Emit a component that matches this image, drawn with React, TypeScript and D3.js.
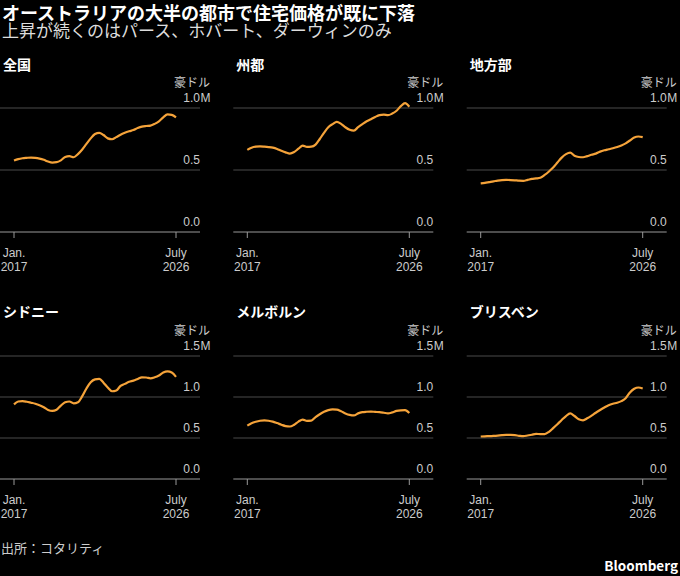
import React from "react";
import * as d3 from "d3";

// Quarterly median home values (AUD millions), Jan 2017 – Jul 2026
const quarters = d3.timeMonth.every(3)!.range(new Date(2017, 0, 1), new Date(2026, 7, 1));

const national = [
  0.576, 0.588, 0.595, 0.598, 0.6, 0.598, 0.592, 0.582, 0.568, 0.56, 0.563, 0.578, 0.605,
  0.612, 0.603, 0.628, 0.665, 0.71, 0.755, 0.79, 0.8, 0.782, 0.755, 0.748, 0.765, 0.785,
  0.8, 0.812, 0.822, 0.838, 0.85, 0.855, 0.858, 0.872, 0.893, 0.925, 0.948, 0.945, 0.925,
];
const capitals = [
  0.662, 0.68, 0.688, 0.69, 0.688, 0.685, 0.68, 0.67, 0.655, 0.642, 0.632, 0.645, 0.672,
  0.697, 0.686, 0.688, 0.705, 0.75, 0.8, 0.845, 0.87, 0.888, 0.872, 0.845, 0.825, 0.818,
  0.845, 0.87, 0.893, 0.91, 0.928, 0.942, 0.946, 0.942, 0.955, 0.978, 1.015, 1.04, 1.01,
];
const regional = [
  0.392, 0.396, 0.402, 0.408, 0.415, 0.419, 0.42, 0.419, 0.417, 0.414, 0.413, 0.42, 0.428,
  0.432, 0.438, 0.46, 0.488, 0.52, 0.56, 0.6, 0.628, 0.64, 0.615, 0.605, 0.603, 0.612,
  0.623, 0.632, 0.648, 0.659, 0.667, 0.675, 0.685, 0.698, 0.715, 0.738, 0.762, 0.77, 0.765,
];
const sydney = [
  0.91, 0.945, 0.95, 0.942, 0.93, 0.918, 0.9, 0.875, 0.842, 0.83, 0.845, 0.895, 0.935,
  0.945, 0.922, 0.935, 1.01, 1.104, 1.18, 1.215, 1.222, 1.175, 1.115, 1.07, 1.08, 1.135,
  1.16, 1.185, 1.2, 1.22, 1.24, 1.238, 1.228, 1.24, 1.262, 1.298, 1.312, 1.298, 1.245,
];
const melbourne = [
  0.651, 0.68, 0.698, 0.71, 0.715, 0.71, 0.7, 0.682, 0.662, 0.645, 0.64, 0.662, 0.7,
  0.725, 0.71, 0.712, 0.755, 0.79, 0.82, 0.84, 0.848, 0.845, 0.825, 0.8, 0.782, 0.775,
  0.8, 0.815, 0.82, 0.822, 0.818, 0.815, 0.808, 0.8, 0.812, 0.83, 0.838, 0.84, 0.805,
];
const brisbane = [
  0.518, 0.521, 0.523, 0.526, 0.53, 0.535, 0.538, 0.537, 0.534, 0.527, 0.522, 0.53, 0.54,
  0.55, 0.547, 0.548, 0.575, 0.62, 0.668, 0.72, 0.768, 0.8, 0.768, 0.728, 0.716, 0.74,
  0.772, 0.808, 0.841, 0.872, 0.9, 0.918, 0.93, 0.95, 0.985, 1.055, 1.1, 1.116, 1.104,
];

const panelTitles = ["全国", "州都", "地方部", "シドニー", "メルボルン", "ブリスベン"];
const panelSeries = [national, capitals, regional, sydney, melbourne, brisbane];
const topTicks = [0, 0.5, 1.0];
const bottomTicks = [0, 0.5, 1.0, 1.5];
const xTickDates = [new Date(2017, 0, 1), new Date(2026, 6, 1)];
const xTickLabels = [["Jan.", "2017"], ["July", "2026"]];

const W = 680;
const H = 576;
const PANEL_W = 200;
const PANEL_LEFT = [0, 233.3, 466.7];
const ROWS = [
  { titleY: 70, top: 108, bottom: 232, ticks: topTicks },
  { titleY: 317, top: 356, bottom: 479, ticks: bottomTicks },
];
const FONT = "'Noto Sans CJK JP', 'Noto Sans', sans-serif";
const LATIN = "'Liberation Sans', Arial, sans-serif";
const ORANGE = "#f5a33a";

const Panel: React.FC<{ idx: number }> = ({ idx }) => {
  const row = ROWS[Math.floor(idx / 3)];
  const left = PANEL_LEFT[idx % 3];
  const values = panelSeries[idx];
  const maxTick = row.ticks[row.ticks.length - 1];

  const x = d3.scaleTime().domain([xTickDates[0], xTickDates[1]]).range([14, 176]);
  const y = d3.scaleLinear().domain([0, maxTick]).range([row.bottom, row.top]);

  const line = d3
    .line<number>()
    .x((_, i) => x(quarters[i]))
    .y((d) => y(d))
    .curve(d3.curveMonotoneX);

  return (
    <g transform={`translate(${left},0)`}>
      <text x={3} y={row.titleY} fill="#fff" fontSize={14} fontWeight="bold">
        {panelTitles[idx]}
      </text>
      {row.ticks.map((t) =>
        t === 0 ? null : (
          <line key={t} x1={0} x2={PANEL_W} y1={y(t)} y2={y(t)} stroke="#4a4a4a" strokeWidth={1} />
        )
      )}
      <line x1={0} x2={PANEL_W} y1={y(0)} y2={y(0)} stroke="#999" strokeWidth={1} />
      {row.ticks.map((t) => (
        <text
          key={`l${t}`}
          x={PANEL_W}
          y={y(t) - 6.5}
          fill="#ccc"
          fontSize={12}
          fontFamily={LATIN}
          textAnchor="end"
        >
          {t.toFixed(1)}
        </text>
      ))}
      <text x={PANEL_W + 0.5} y={y(maxTick) - 6.5} fill="#ccc" fontSize={12} fontFamily={LATIN}>
        M
      </text>
      <text x={PANEL_W + 10} y={y(maxTick) - 21.5} fill="#ccc" fontSize={12} textAnchor="end">
        豪ドル
      </text>
      {xTickDates.map((d, i) => (
        <g key={i} transform={`translate(${x(d)},${y(0)})`}>
          <line y1={0} y2={6} stroke="#999" />
          <text fill="#ccc" fontSize={12} fontFamily={LATIN} textAnchor="middle">
            <tspan x={0} y={25}>
              {xTickLabels[i][0]}
            </tspan>
            <tspan x={0} y={39}>
              {xTickLabels[i][1]}
            </tspan>
          </text>
        </g>
      ))}
      <path d={line(values) || ""} fill="none" stroke={ORANGE} strokeWidth={2.2} strokeLinejoin="round" />
    </g>
  );
};

export default function App() {
  return (
    <>
      <style>{"body{margin:0;background:#000}"}</style>
      <svg width={W} height={H} style={{ display: "block", background: "#000", fontFamily: FONT }}>
        <text x={2} y={20} fill="#fff" fontSize={18} fontWeight="bold">
          オーストラリアの大半の都市で住宅価格が既に下落
        </text>
        <text x={2} y={37} fill="#ddd" fontSize={17}>
          上昇が続くのはパース、ホバート、ダーウィンのみ
        </text>
        {panelSeries.map((_, i) => (
          <Panel key={i} idx={i} />
        ))}
        <text x={1} y={553} fill="#ccc" fontSize={13}>
          出所：コタリティ
        </text>
        <text x={678} y={571} fill="#fff" fontSize={13.5} fontWeight="bold" textAnchor="end">
          Bloomberg
        </text>
      </svg>
    </>
  );
}
